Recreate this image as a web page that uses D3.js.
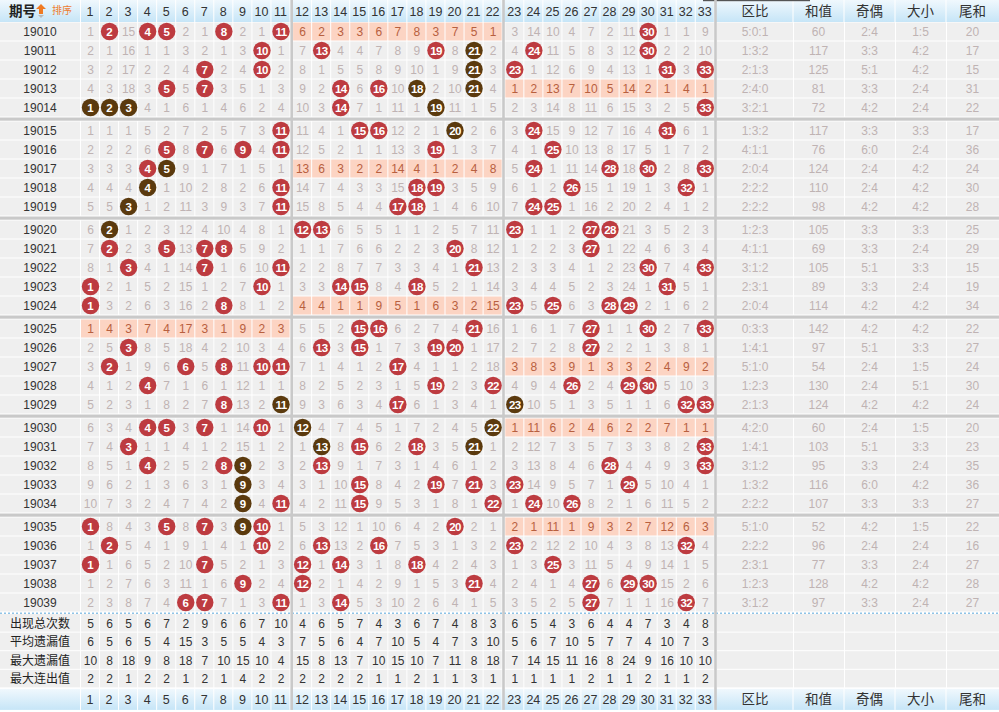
<!DOCTYPE html>
<html><head><meta charset="utf-8">
<script src="https://cdn.jsdelivr.net/npm/d3@7/dist/d3.min.js"></script>
<style>body{margin:0;background:#fff;}svg{display:block;}</style>
</head><body>
<script>
// ---------------- DATA ----------------
const periods = ["19010","19011","19012","19013","19014","19015","19016","19017","19018","19019",
 "19020","19021","19022","19023","19024","19025","19026","19027","19028","19029",
 "19030","19031","19032","19033","19034","19035","19036","19037","19038","19039"];
// omission per number 1..33 for each period; 0 = number drawn
const omissions = [
 [1,0,15,0,0,2,1,0,2,1,0, 6,2,3,3,6,7,8,3,7,5,1, 3,14,10,4,7,2,11,0,1,1,9],
 [2,1,16,1,1,3,2,1,3,0,1, 7,0,4,4,7,8,9,0,8,0,2, 4,0,11,5,8,3,12,0,2,2,10],
 [3,2,17,2,2,4,0,2,4,0,2, 8,1,5,5,8,9,10,1,9,0,3, 0,1,12,6,9,4,13,1,0,3,0],
 [4,3,18,3,0,5,0,3,5,1,3, 9,2,0,6,0,10,0,2,10,0,4, 1,2,13,7,10,5,14,2,1,4,1],
 [0,0,0,4,1,6,1,4,6,2,4, 10,3,0,7,1,11,1,0,11,1,5, 2,3,14,8,11,6,15,3,2,5,0],
 [1,1,1,5,2,7,2,5,7,3,0, 11,4,1,0,0,12,2,1,0,2,6, 3,0,15,9,12,7,16,4,0,6,1],
 [2,2,2,6,0,8,0,6,0,4,0, 12,5,2,1,1,13,3,0,1,3,7, 4,1,0,10,13,8,17,5,1,7,2],
 [3,3,3,0,0,9,1,7,1,5,1, 13,6,3,2,2,14,4,1,2,4,8, 5,0,1,11,14,0,18,0,2,8,0],
 [4,4,4,0,1,10,2,8,2,6,0, 14,7,4,3,3,15,0,0,3,5,9, 6,1,2,0,15,1,19,1,3,0,1],
 [5,5,0,1,2,11,3,9,3,7,0, 15,8,5,4,4,0,0,1,4,6,10, 7,0,0,1,16,2,20,2,4,1,2],
 [6,0,1,2,3,12,4,10,4,8,1, 0,0,6,5,5,1,1,2,5,7,11, 0,1,1,2,0,0,21,3,5,2,3],
 [7,0,2,3,0,13,0,0,5,9,2, 1,1,7,6,6,2,2,3,0,8,12, 1,2,2,3,0,1,22,4,6,3,4],
 [8,1,0,4,1,14,0,1,6,10,0, 2,2,8,7,7,3,3,4,1,0,13, 2,3,3,4,1,2,23,0,7,4,0],
 [0,2,1,5,2,15,1,2,7,0,1, 3,3,0,0,8,4,0,5,2,1,14, 3,4,4,5,2,3,24,1,0,5,1],
 [0,3,2,6,3,16,2,0,8,1,2, 4,4,1,1,9,5,1,6,3,2,15, 0,5,0,6,3,0,0,2,1,6,2],
 [1,4,3,7,4,17,3,1,9,2,3, 5,5,2,0,0,6,2,7,4,0,16, 1,6,1,7,0,1,1,0,2,7,0],
 [2,5,0,8,5,18,4,2,10,3,4, 6,0,3,0,1,7,3,0,0,1,17, 2,7,2,8,0,2,2,1,3,8,1],
 [3,0,1,9,6,0,5,0,11,0,0, 7,1,4,1,2,0,4,1,1,2,18, 3,8,3,9,1,3,3,2,4,9,2],
 [4,1,2,0,7,1,6,1,12,1,1, 8,2,5,2,3,1,5,0,2,3,0, 4,9,4,0,2,4,0,0,5,10,3],
 [5,2,3,1,8,2,7,0,13,2,0, 9,3,6,3,4,0,6,1,3,4,1, 0,10,5,1,3,5,1,1,6,0,0],
 [6,3,4,0,0,3,0,1,14,0,1, 0,4,7,4,5,1,7,2,4,5,0, 1,11,6,2,4,6,2,2,7,1,1],
 [7,4,0,1,1,4,1,2,15,1,2, 1,0,8,0,6,2,0,3,5,0,1, 2,12,7,3,5,7,3,3,8,2,0],
 [8,5,1,0,2,5,2,0,0,2,3, 2,0,9,1,7,3,1,4,6,1,2, 3,13,8,4,6,0,4,4,9,3,0],
 [9,6,2,1,3,6,3,1,0,3,4, 3,1,10,0,8,4,2,0,7,0,3, 0,14,9,5,7,1,0,5,10,4,1],
 [10,7,3,2,4,7,4,2,0,4,0, 4,2,11,0,9,5,3,1,8,1,0, 1,0,10,0,8,2,1,6,11,5,2],
 [0,8,4,3,0,8,0,3,0,0,1, 5,3,12,1,10,6,4,2,0,2,1, 2,1,11,1,9,3,2,7,12,6,3],
 [1,0,5,4,1,9,1,4,1,0,2, 6,0,13,2,0,7,5,3,1,3,2, 0,2,12,2,10,4,3,8,13,0,4],
 [0,1,6,5,2,10,0,5,2,1,3, 0,1,0,3,1,8,0,4,2,4,3, 1,3,0,3,11,5,4,9,14,1,5],
 [1,2,7,6,3,11,1,6,0,2,4, 0,2,1,4,2,9,1,5,3,0,4, 2,4,1,4,0,6,0,0,15,2,6],
 [2,3,8,7,4,0,0,7,1,3,0, 1,3,0,5,3,10,2,6,4,1,5, 3,5,2,5,0,7,1,1,16,0,7]
];
// balls drawn in dark brown
const brownBalls = {
 "19011":[21],"19012":[21],"19013":[18,21],"19014":[1,2,3,19],"19015":[20],
 "19017":[5],"19018":[4],"19019":[3],"19020":[2],"19029":[11,23],"19030":[12,22],
 "19031":[13,21],"19032":[9],"19033":[9],"19034":[9],"19035":[9]
};
const zoneRatio = ["5:0:1","1:3:2","2:1:3","2:4:0","3:2:1","1:3:2","4:1:1","2:0:4","2:2:2","2:2:2",
 "1:2:3","4:1:1","3:1:2","2:3:1","2:0:4","0:3:3","1:4:1","5:1:0","1:2:3","2:1:3",
 "4:2:0","1:4:1","3:1:2","1:3:2","2:2:2","5:1:0","2:2:2","2:3:1","1:2:3","3:1:2"];
const sumValue = [60,117,125,81,72,117,76,124,110,98,105,69,105,89,114,142,97,54,130,124,60,103,95,116,107,52,96,77,128,97];
const oddEven = ["2:4","3:3","5:1","3:3","4:2","3:3","6:0","2:4","2:4","4:2","3:3","3:3","5:1","3:3","4:2",
 "4:2","5:1","2:4","2:4","4:2","2:4","5:1","3:3","6:0","3:3","4:2","2:4","3:3","4:2","3:3"];
const bigSmall = ["1:5","4:2","4:2","2:4","2:4","3:3","2:4","4:2","4:2","4:2","3:3","2:4","3:3","2:4","4:2",
 "4:2","3:3","1:5","5:1","4:2","1:5","3:3","2:4","4:2","3:3","1:5","2:4","2:4","4:2","2:4"];
const tailSum = [20,17,15,31,22,17,36,24,30,28,25,29,15,19,34,22,27,24,30,24,20,23,35,36,27,22,16,27,28,27];

const numbers = d3.range(1, 34);
const rightHeaders = ["区比","和值","奇偶","大小","尾和"];
const statLabels = ["出现总次数","平均遗漏值","最大遗漏值","最大连出值"];
const appearCount = [5,6,5,6,7,2,9,6,6,7,10, 4,6,5,7,4,3,6,7,4,8,3, 6,5,4,3,6,4,4,7,3,4,8];
const avgMiss     = [6,5,6,5,4,15,3,5,5,4,3, 7,5,6,4,7,10,5,4,7,3,10, 5,6,7,10,5,7,7,4,10,7,3];
const maxMiss     = [10,8,18,9,8,18,7,10,15,10,4, 15,8,13,7,10,15,10,7,11,8,18, 7,14,15,11,16,8,24,9,16,10,10];
const maxStreak   = [2,2,1,2,2,1,2,1,4,2,2, 2,2,2,2,1,1,2,1,1,3,1, 1,1,1,1,2,1,1,2,1,1,2];
const statValues = [appearCount, avgMiss, maxMiss, maxStreak];

// ---------------- LAYOUT ----------------
const W = 999, H = 712;
const colW = 19.05;
const zoneStarts = [90, 302.1, 514.3];
const zoneScales = zoneStarts.map((s, z) =>
  d3.scaleLinear().domain([z*11+1, z*11+11]).range([s, s + 10*colW]));
const colX = n => zoneScales[Math.floor((n-1)/11)](n);
const rowY = d3.scaleLinear().domain([0, 1]).range([22.5, 41.5]); // per-row pitch 19
const rowTop = i => rowY(i % 5) + Math.floor(i/5) * 99;
const rowH = 19;
const rightBounds = [717, 793, 844, 895, 946, 999];
const statTop = 614, statH = 18.6;
const footTop = statTop + 4*statH + 0.5, footH = 21;

const FONT = "'Liberation Sans', Arial, sans-serif";
const CJK = "'Noto Sans CJK SC', sans-serif";
const CELL_BG = "#efefef", GRAY_TXT = "#bfb3b3", PINK_BG = "#fcd4c3", PINK_TXT = "#b8603f";
const RED = "#bd3b40", BROWN = "#5b3a0e", SEP = "#c9c9c9";

const svg = d3.select("body").append("svg").attr("width", W).attr("height", H)
  .style("font-family", FONT);
svg.append("rect").attr("width", W).attr("height", H).attr("fill", "#fff");

const defs = svg.append("defs");
const g1 = defs.append("linearGradient").attr("id","hdr").attr("x1",0).attr("y1",0).attr("x2",0).attr("y2",1);
g1.append("stop").attr("offset","0%").attr("stop-color","#f0f8fd");
g1.append("stop").attr("offset","100%").attr("stop-color","#c6e5f7");

// ---- header ----
function headerRow(y, h, withTitle) {
  const g = svg.append("g");
  g.append("rect").attr("x",0).attr("y",y).attr("width",W).attr("height",h).attr("fill","url(#hdr)");
  const xs = [80.5].concat(numbers.map(n => colX(n)+9.5)).concat(rightBounds.slice(1,5));
  g.selectAll("line.v").data(xs).join("line").attr("x1",d=>d).attr("x2",d=>d)
    .attr("y1",y).attr("y2",y+h).attr("stroke","#fff").attr("stroke-width",1);
  g.selectAll("text.n").data(numbers).join("text")
    .attr("x", d => colX(d)).attr("y", y + h/2 + 4.5).attr("text-anchor","middle")
    .attr("font-size", 12.5).attr("fill","#333").text(d => d);
  g.selectAll("text.r").data(rightHeaders).join("text")
    .attr("x", (d,i) => (rightBounds[i]+rightBounds[i+1])/2).attr("y", y + h/2 + 5)
    .attr("text-anchor","middle").attr("font-family",CJK).attr("font-size",13.5).attr("fill","#333").text(d=>d);
  if (withTitle) {
    g.append("text").attr("x",9).attr("y",y+16).attr("font-family",CJK).attr("font-weight","bold")
      .attr("font-size",13.5).attr("fill","#222").text("期号");
    g.append("path").attr("d","M41,4 L46,9 L43,9 L43,14 L39,14 L39,9 L36,9 Z").attr("fill","#f07a22");
    g.append("path").attr("d","M38,15 L44,15 L41,18 Z").attr("fill","#b9b9b9");
    g.append("text").attr("x",52).attr("y",14).attr("font-family",CJK)
      .attr("font-size",10).attr("fill","#ee7d32").text("排序");
  }
}
headerRow(0, 22, true);
svg.append("rect").attr("x",703).attr("y",0).attr("width",107).attr("height",1.2).attr("fill","#555");

// ---- data rows ----
const rows = svg.append("g");
periods.forEach((p, i) => {
  const y = rowTop(i);
  const g = rows.append("g");
  const om = omissions[i];
  const brown = brownBalls[p] || [];
  const zoneHit = [0,1,2].map(z => om.slice(z*11, z*11+11).some(v => v === 0));
  g.append("rect").attr("x",0).attr("y",y).attr("width",80).attr("height",rowH-1).attr("fill",CELL_BG);
  g.append("text").attr("x",40).attr("y",y+13.5).attr("text-anchor","middle")
    .attr("font-size",12).attr("fill","#333").text(p);
  const cells = g.selectAll("g.c").data(numbers).join("g");
  cells.append("rect")
    .attr("x", n => colX(n) - 9.5 + 0.5).attr("y", y).attr("width", colW - 1).attr("height", rowH - 1)
    .attr("fill", n => zoneHit[Math.floor((n-1)/11)] ? CELL_BG : PINK_BG);
  cells.filter(n => om[n-1] !== 0).append("text")
    .attr("x", n => colX(n)+0.5).attr("y", y + 13.5).attr("text-anchor","middle").attr("font-size",12)
    .attr("fill", n => zoneHit[Math.floor((n-1)/11)] ? GRAY_TXT : PINK_TXT)
    .text(n => om[n-1]);
  const balls = cells.filter(n => om[n-1] === 0);
  balls.append("circle").attr("cx", n => colX(n)+0.5).attr("cy", y + 9).attr("r", 8.7)
    .attr("fill", n => brown.includes(n) ? BROWN : RED);
  balls.append("text").attr("x", n => colX(n)+0.5).attr("y", y + 13).attr("text-anchor","middle")
    .attr("font-size", 11.5).attr("font-weight","bold").attr("fill","#fff")
    .attr("letter-spacing", n => n >= 10 ? -0.6 : 0).text(n => n);
  const vals = [zoneRatio[i], sumValue[i], oddEven[i], bigSmall[i], tailSum[i]];
  vals.forEach((v, k) => {
    g.append("rect").attr("x", rightBounds[k] + (k ? 1 : 0)).attr("y", y)
      .attr("width", rightBounds[k+1] - rightBounds[k] - (k ? 1 : 0)).attr("height", rowH-1).attr("fill", CELL_BG);
    g.append("text").attr("x",(rightBounds[k]+rightBounds[k+1])/2).attr("y",y+13.5)
      .attr("text-anchor","middle").attr("font-size",12).attr("fill",GRAY_TXT).text(v);
  });
});

// group separators
d3.range(0,5).forEach(gi => {
  svg.append("rect").attr("x",0).attr("y", 22.5 + gi*99 + 95).attr("width",W).attr("height",3.2).attr("fill",SEP);
});

// ---- stats rows ----
statLabels.forEach((lab, r) => {
  const y = statTop + r*statH;
  const g = svg.append("g");
  g.append("rect").attr("x",0).attr("y",y).attr("width",80).attr("height",statH-1).attr("fill",CELL_BG);
  g.append("text").attr("x",40).attr("y",y+13.5).attr("text-anchor","middle").attr("font-family",CJK)
    .attr("font-size",12).attr("fill","#222").text(lab);
  const vals = statValues[r];
  g.selectAll("rect.c").data(numbers).join("rect")
    .attr("x", n => colX(n)-9).attr("y",y).attr("width",colW-1).attr("height",statH-1).attr("fill",CELL_BG);
  g.selectAll("text.c").data(numbers).join("text")
    .attr("x", n => colX(n)+0.5).attr("y", y+13.5).attr("text-anchor","middle").attr("font-size",12)
    .attr("fill","#333").text(n => vals[n-1]);
  rightBounds.slice(0,5).forEach((b,k) => {
    g.append("rect").attr("x", b + (k?1:0)).attr("y",y).attr("width", rightBounds[k+1]-b-(k?1:0))
      .attr("height",statH-1).attr("fill",CELL_BG);
  });
});
svg.append("line").attr("x1",0).attr("x2",W).attr("y1",613.3).attr("y2",613.3)
  .attr("stroke","#8fc3e6").attr("stroke-width",1.4).attr("stroke-dasharray","2,2");

// ---- footer ----
headerRow(footTop, footH, false);

// zone vertical separators
[290.4, 502.2, 714.2].forEach(x => {
  svg.append("rect").attr("x", x).attr("y", 0).attr("width", 2.6).attr("height", footTop + footH).attr("fill", SEP);
});
</script>
</body></html>
